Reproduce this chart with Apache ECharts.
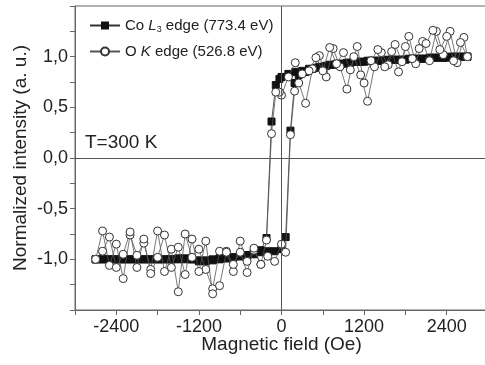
<!DOCTYPE html>
<html>
<head>
<meta charset="utf-8">
<script src="https://cdn.jsdelivr.net/npm/echarts@6/dist/echarts.min.js"></script>
<style>html,body{margin:0;padding:0;background:#fff}#c{width:485px;height:365px}</style>
</head>
<body>
<div id="c"></div>
<script>
// Field values (Oe) for the ascending branch (-H -> +H)
const fieldUp = [-2700,-2600,-2500,-2400,-2300,-2200,-2100,-2000,-1900,-1800,-1700,-1600,-1500,-1400,-1300,-1200,-1100,-1000,-900,-800,-700,-600,-500,-400,-300,-200,-100,0,60,130,190,250,350,450,550,650,750,850,950,1050,1150,1250,1350,1450,1550,1650,1750,1850,1950,2050,2150,2250,2350,2450,2550,2650,2700];
// Field values (Oe) for the descending branch (+H -> -H)
const fieldDown = [2700,2600,2500,2400,2300,2200,2100,2000,1900,1800,1700,1600,1500,1400,1300,1200,1100,1000,900,800,700,600,500,400,300,200,100,0,-30,-83,-145,-218,-300,-400,-500,-600,-700,-800,-900,-1000,-1100,-1200,-1300,-1400,-1500,-1600,-1700,-1800,-1900,-2000,-2100,-2200,-2300,-2400,-2500,-2600,-2700];

// Co L3 edge (773.4 eV)
const coUp = [-1.00,-1.00,-1.00,-1.00,-1.00,-1.00,-1.00,-1.00,-1.00,-1.00,-1.00,-1.00,-0.99,-0.99,-1.00,-1.02,-1.02,-1.00,-0.99,-0.99,-0.98,-0.97,-0.96,-0.95,-0.93,-0.92,-0.92,-0.90,-0.78,0.27,0.74,0.82,0.85,0.88,0.90,0.91,0.92,0.93,0.94,0.95,0.95,0.96,0.96,0.96,0.97,0.97,0.97,0.98,0.98,0.98,0.99,0.99,0.99,1.00,1.00,1.00,1.00];
const coDown = [1.00,1.00,1.00,0.99,0.99,0.99,0.98,0.98,0.98,0.97,0.97,0.97,0.96,0.96,0.96,0.95,0.95,0.94,0.93,0.93,0.92,0.90,0.89,0.88,0.86,0.85,0.83,0.80,0.78,0.72,0.36,-0.79,-0.91,-0.94,-0.96,-0.97,-0.98,-0.99,-1.00,-1.01,-1.01,-1.01,-1.00,-1.00,-1.00,-1.00,-1.00,-1.00,-1.00,-1.00,-1.00,-1.00,-1.00,-1.00,-1.00,-1.00,-1.00];

// O K edge (526.8 eV)
const oUp = [-1.00,-0.72,-1.06,-0.85,-1.19,-0.76,-0.96,-0.84,-1.10,-0.72,-1.12,-0.90,-1.32,-0.75,-0.98,-0.90,-1.10,-1.29,-0.92,-0.92,-1.12,-0.82,-1.02,-0.91,-1.05,-0.97,-1.02,-0.85,-0.93,0.23,0.66,0.74,0.54,0.88,1.01,0.80,1.08,0.90,0.68,1.00,0.82,0.56,0.90,1.04,0.92,1.12,0.95,1.20,0.93,1.15,0.96,1.25,1.02,1.25,0.94,1.19,1.00];
const oDown = [1.00,1.14,0.96,1.20,1.07,1.26,1.13,1.08,0.98,1.10,0.85,1.05,0.90,1.07,0.96,0.74,1.10,0.87,1.04,0.93,1.09,0.86,0.99,0.86,0.83,0.94,0.80,0.62,0.65,0.65,0.24,-0.81,-1.05,-0.89,-1.13,-0.93,-1.05,-0.93,-1.26,-1.34,-0.82,-1.12,-0.80,-1.15,-0.88,-1.08,-0.76,-0.98,-1.14,-0.80,-1.08,-0.73,-0.95,-1.08,-0.78,-0.92,-1.00];

const xLabels = [-2400,-1200,0,1200,2400];
const yLabels = [-1.0,-0.5,0.0,0.5,1.0];

function pairs(xs, ys){ return xs.map((x,i)=>[x, ys[i]]); }
const coData = pairs(fieldUp, coUp).concat(pairs(fieldDown, coDown));
const oData = pairs(fieldUp, oUp).concat(pairs(fieldDown, oDown));

const FONT = 'Liberation Sans';
const chart = echarts.init(document.getElementById('c'), null, {renderer:'canvas'});
chart.setOption({
  animation:false,
  backgroundColor:'#fff',
  textStyle:{fontFamily:FONT},
  grid:{left:75, top:6, width:413, height:304, containLabel:false, outerBoundsMode:'none',
    show:true, borderColor:'#666', borderWidth:1},
  legend:{
    orient:'vertical', left:84, top:13, itemWidth:30, itemHeight:10, itemGap:10,
    data:['Co','O'],
    textStyle:{fontFamily:FONT, fontSize:15, color:'#222',
      rich:{
        n:{fontFamily:FONT, fontSize:15, color:'#222'},
        i:{fontFamily:FONT, fontSize:15, fontStyle:'italic', color:'#222'},
        s:{fontFamily:FONT, fontSize:9, color:'#222', verticalAlign:'bottom', padding:[8,0,0,0]}
      }},
    formatter:function(n){
      return n==='Co' ? '{n|Co }{i|L}{s|3}{n| edge (773.4 eV)}' : '{n|O }{i|K}{n| edge (526.8 eV)}';
    }
  },
  xAxis:{
    type:'value', min:-3000, max:3000, interval:600,
    name:'Magnetic field (Oe)', nameLocation:'middle', nameGap:25, nameMoveOverlap:false,
    nameTextStyle:{fontFamily:FONT, fontSize:19, color:'#222'},
    axisLine:{onZero:false, lineStyle:{color:'#666', width:1}},
    axisTick:{show:true, length:5, lineStyle:{color:'#666'}},
    axisLabel:{fontFamily:FONT, fontSize:18, color:'#222', margin:8,
      formatter:v=> xLabels.indexOf(v)>=0 ? String(v) : ''},
    splitLine:{show:false}
  },
  yAxis:{
    type:'value', min:-1.5, max:1.5, interval:0.25,
    name:'Normalized intensity (a. u.)', nameLocation:'middle', nameGap:45, nameMoveOverlap:false,
    nameTextStyle:{fontFamily:FONT, fontSize:19, color:'#222'},
    axisLine:{show:true, onZero:false, lineStyle:{color:'#666', width:1}},
    axisTick:{show:true, length:5, lineStyle:{color:'#666'}},
    axisLabel:{fontFamily:FONT, fontSize:18, color:'#222', margin:7,
      formatter:v=>{
        const k = yLabels.findIndex(y=>Math.abs(y-v)<1e-9);
        return k>=0 ? v.toFixed(1).replace('.', ',') : '';
      }},
    splitLine:{show:false}
  },
  graphic:[{type:'text', left:85, top:133, style:{text:'T=300 K', font:'19px "Liberation Sans"', fill:'#222'}}],
  series:[
    {
      name:'Co', type:'line', data:coData, symbol:'rect', symbolSize:7,
      itemStyle:{color:'#111', borderColor:'#111'},
      lineStyle:{color:'#333', width:0.8},
      z:3,
      markLine:{silent:true, symbol:'none', label:{show:false},
        lineStyle:{color:'#555', width:1, type:'solid'},
        data:[{xAxis:0},{yAxis:0}]}
    },
    {
      name:'O', type:'line', data:oData, symbol:'circle', symbolSize:8,
      itemStyle:{color:'#fff', borderColor:'#333', borderWidth:1},
      lineStyle:{color:'#555', width:0.8},
      z:4
    }
  ]
});
</script>
</body>
</html>
